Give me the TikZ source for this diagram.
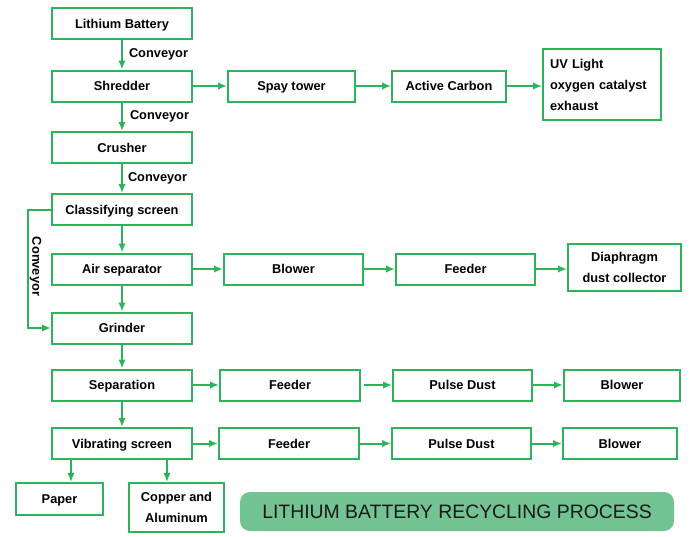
\documentclass[tikz,border=0pt]{standalone}
\usepackage{fontspec}
\setmainfont{Liberation Sans}
\usetikzlibrary{arrows.meta}
\definecolor{flowgreen}{HTML}{2EB35C}
\definecolor{titlegreen}{HTML}{72C391}
\tikzset{
  stage/.style={draw=flowgreen, line width=2pt, fill=white, minimum width=140pt, minimum height=31pt,
    inner sep=2pt, font=\fontsize{12.8}{21}\selectfont\bfseries, align=center,
    text height=9.2pt, text depth=0pt},
  multi/.style={text height={}, text depth={}},
  flow/.style={draw=flowgreen, line width=2pt, -{Latex[length=9pt,width=7.5pt]}},
  lab/.style={font=\fontsize{12.8}{15}\selectfont\bfseries, inner sep=0pt}
}
\begin{document}
\begin{tikzpicture}[x=1pt,y=-1pt]
\useasboundingbox (0,0) rectangle (700,536);
% main column
\node[stage] (bat) at (122,23.5) {Lithium Battery};
\node[stage] (shred) at (122,86) {Shredder};
\node[stage] (crush) at (122,147.5) {Crusher};
\node[stage] (classify) at (122,209.5) {Classifying screen};
\node[stage] (air) at (122,269) {Air separator};
\node[stage] (grind) at (122,328) {Grinder};
\node[stage] (sep) at (122,385) {Separation};
\node[stage] (vib) at (122,443.5) {Vibrating screen};
\node[stage, minimum width=87pt, minimum height=32pt] (paper) at (59.5,499) {Paper};
\node[stage, multi, minimum width=95pt, minimum height=49pt] (copper) at (176.5,507.5) {Copper and\\Aluminum};
% exhaust row
\node[stage, minimum width=127pt] (spay) at (291.5,86) {Spay tower};
\node[stage, minimum width=114pt] (carbon) at (449,86) {Active Carbon};
\node[stage, multi, minimum width=118pt, minimum height=71pt, align=left, text width=104pt] (uv) at (602,84.5) {UV Light\\oxygen catalyst\\exhaust};
% air separator row
\node[stage, minimum width=139pt] (blow1) at (293.5,269) {Blower};
\node[stage, minimum width=139pt] (feed1) at (465.5,269) {Feeder};
\node[stage, multi, minimum width=113pt, minimum height=47pt] (diaph) at (624.5,267.5) {Diaphragm\\dust collector};
% separation row
\node[stage] (feed2) at (290,385) {Feeder};
\node[stage, minimum width=139pt] (pulse2) at (462.5,385) {Pulse Dust};
\node[stage, minimum width=116pt] (blow2) at (622,385) {Blower};
% vibrating screen row
\node[stage] (feed3) at (289,443.5) {Feeder};
\node[stage, minimum width=139pt] (pulse3) at (461.5,443.5) {Pulse Dust};
\node[stage, minimum width=114pt] (blow3) at (620,443.5) {Blower};
% title
\node[fill=titlegreen, rounded corners=10pt, minimum width=434pt, minimum height=39pt,
  text=black!90, font=\fontsize{19.4}{22}\selectfont] (title) at (457,511.5) {LITHIUM BATTERY RECYCLING PROCESS};

% vertical flow
\draw[flow] (bat) -- (shred) node[lab, midway, anchor=west, xshift=6pt] {Conveyor};
\draw[flow] (shred) -- (crush) node[lab, midway, anchor=west, xshift=7pt] {Conveyor};
\draw[flow] (crush) -- (classify) node[lab, midway, anchor=west, xshift=5pt] {Conveyor};
\draw[flow] (classify) -- (air);
\draw[flow] (air) -- (grind);
\draw[flow] (grind) -- (sep);
\draw[flow] (sep) -- (vib);
\draw[flow] ([xshift=-51pt]vib.south) -- ([xshift=-51pt]vib.south |- paper.north);
\draw[flow] ([xshift=45pt]vib.south) -- ([xshift=45pt]vib.south |- copper.north);
% bypass
\coordinate (bend1) at (27.5,209.5);
\coordinate (bend2) at (27.5,328);
\draw[flow] (classify.west) -- (bend1) -- (bend2) -- (grind.west);
\node[lab, rotate=-90] (bypass) at (35.5,266.5) {Conveyor};
% side rows
\draw[flow] (shred) -- (spay);
\draw[flow] (spay) -- (carbon);
\draw[flow] (carbon.east) -- (carbon.east -| uv.west);
\draw[flow] (air) -- (blow1);
\draw[flow] (blow1) -- (feed1);
\draw[flow] (feed1.east) -- (feed1.east -| diaph.west);
\draw[flow] (sep) -- (feed2);
\draw[flow] ([xshift=3pt]feed2.east) -- (pulse2);
\draw[flow] (pulse2) -- (blow2);
\draw[flow] (vib) -- (feed3);
\draw[flow] (feed3) -- (pulse3);
\draw[flow] (pulse3) -- (blow3);
\end{tikzpicture}
\end{document}
